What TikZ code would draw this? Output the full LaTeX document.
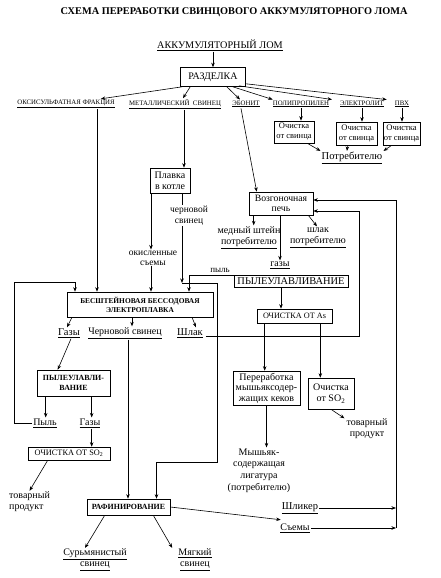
\documentclass[tikz,border=0pt]{standalone}
\usepackage{fontspec}
\setmainfont{Liberation Serif}
\usetikzlibrary{arrows.meta,calc}
\newcommand\fsz[2]{\fontsize{#1}{#2}\selectfont}
\begin{document}
\begin{tikzpicture}[x=1pt,y=-1pt,
  every node/.style={inner sep=1pt, align=center},
  lbl/.style={font=\fsz{10}{11}},
  capl/.style={font=\fsz{6.8}{8}},
  box/.style={draw, line width=0.6pt, inner sep=1pt},
  ln/.style={line width=0.6pt},
  arr/.style={line width=0.6pt, -{Stealth[length=4.5pt,width=3.5pt]}}
]
\useasboundingbox (0,0) rectangle (440,578);
\fill[white] (0,0) rectangle (440,578);

% ---------- nodes ----------
\node[font=\bfseries\fsz{10.3}{12}] (title) at (234,12) {СХЕМА ПЕРЕРАБОТКИ СВИНЦОВОГО АККУМУЛЯТОРНОГО ЛОМА};
\node[font=\fsz{10.2}{12}] (lom) at (220,45) {\underline{АККУМУЛЯТОРНЫЙ ЛОМ}};
\node[box,font=\fsz{10}{12},minimum width=65pt,minimum height=19pt] (razd) at (213,77) {РАЗДЕЛКА};

\node[capl] (oks) at (66,104) {\underline{ОКСИСУЛЬФАТНАЯ ФРАКЦИЯ}};
\node[capl] (met) at (175,104) {\underline{МЕТАЛЛИЧЕСКИЙ\ \ СВИНЕЦ}};
\node[capl] (ebon) at (246,104) {\underline{ЭБОНИТ}};
\node[capl] (poli) at (301,104) {\underline{ПОЛИПРОПИЛЕН}};
\node[capl] (elek) at (362,104) {\underline{ЭЛЕКТРОЛИТ}};
\node[capl] (pvh) at (402,104) {\underline{ПВХ}};

\node[box,font=\fsz{8.5}{10},minimum width=40pt,minimum height=22pt] (b1) at (294,132) {Очистка\\от свинца};
\node[box,font=\fsz{8.5}{10},minimum width=41pt,minimum height=23pt] (b2) at (356.5,133.5) {Очистка\\от свинца};
\node[box,font=\fsz{8.5}{10},minimum width=37pt,minimum height=23pt,inner sep=0pt] (b3) at (401.5,133.5) {Очистка\\от свинца};
\node[font=\fsz{10.5}{12}] (potr) at (352,158) {\underline{Потребителю}};

\node[box,font=\fsz{10}{11},minimum width=40pt,minimum height=25pt] (plavka) at (170,180.5) {Плавка\\в котле};
\node[lbl,font=\fsz{9.5}{10}] (okis) at (153,258) {окисленные\\съемы};
\node[lbl,font=\fsz{9.5}{10.5}] (cherv) at (189,215.5) {черновой\\свинец};

\node[box,font=\fsz{9.7}{10.5},minimum width=64pt,minimum height=23pt] (vozg) at (281,203.5) {Возгоночная\\печь};
\node[lbl] (med) at (249,237.5) {медный штейн\\\underline{потребителю}};
\node[lbl] (shlak1) at (318,237.5) {шлак\\\underline{потребителю}};
\node[lbl] (gazy1) at (280,265) {\underline{газы}};
\node[box,font=\fsz{10.4}{12},minimum width=114pt,minimum height=12pt,inner sep=0.5pt] (pyleu) at (291,281) {ПЫЛЕУЛАВЛИВАНИЕ};
\node[lbl,font=\fsz{9}{10}] (pyl1) at (220,270) {пыль};
\node[box,font=\fsz{8.2}{9},minimum width=75pt,minimum height=14pt,inner sep=0.5pt] (ochAs) at (294.5,316) {ОЧИСТКА ОТ As};

\node[box,font=\bfseries\fsz{7.4}{9},minimum width=146pt,minimum height=25pt] (besh) at (140,304.5) {БЕСШТЕЙНОВАЯ БЕССОДОВАЯ\\ЭЛЕКТРОПЛАВКА};
\node[lbl,font=\fsz{10.5}{12}] (gazy2) at (69,333) {\underline{Газы}};
\node[lbl] (chsv) at (125,333) {\underline{Черновой свинец}};
\node[lbl,font=\fsz{10.5}{12}] (shlak2) at (190,333) {\underline{Шлак}};

\node[box,font=\bfseries\fsz{7.9}{10},minimum width=73pt,minimum height=26pt] (pyl2box) at (73.5,383) {ПЫЛЕУЛАВЛИ-\\ВАНИЕ};
\node[lbl] (pyl3) at (45,423) {\underline{Пыль}};
\node[lbl] (gazy3) at (90,423) {\underline{Газы}};
\node[box,font=\fsz{8.3}{9},minimum width=82pt,minimum height=13pt,inner sep=0.5pt] (ochSO2) at (69,453.5) {ОЧИСТКА ОТ SO\textsubscript{2}};
\node[lbl,anchor=west,align=left] (tov1) at (8,502) {товарный\\продукт};

\node[box,font=\fsz{10}{10.5},minimum width=67pt,minimum height=34pt,inner sep=0.5pt] (pererab) at (266.5,388) {Переработка\\мышьяксодер-\\жащих кеков};
\node[box,font=\fsz{10}{11.5},minimum width=46pt,minimum height=31pt] (ochSO2b) at (331,393.5) {Очистка\\от SO\textsubscript{2}};
\node[lbl] (tov2) at (367,428.5) {товарный\\продукт};
\node[lbl,font=\fsz{10}{11.7}] (mysh) at (259,470.5) {Мышьяк-\\содержащая\\лигатура\\(потребителю)};

\node[box,font=\bfseries\fsz{7.9}{10},minimum width=83pt,minimum height=16pt] (raf) at (128.5,507) {РАФИНИРОВАНИЕ};
\node[lbl] (surm) at (95,560) {\underline{Сурьмянистый}\\\underline{свинец}};
\node[lbl] (myag) at (195,560) {\underline{Мягкий}\\\underline{свинец}};
\node[lbl,font=\fsz{10.5}{12}] (shlik) at (300,508) {\underline{Шликер}};
\node[lbl] (sem) at (295,528) {\underline{Съемы}};

% ---------- helper coordinates ----------
\coordinate (k1) at (182,283);
\coordinate (k2) at (217,462);
\coordinate (L) at (14,282);
\coordinate (R1) at (359,211);
\coordinate (R2) at (396,200);

% ---------- connectors ----------
\draw[arr] (lom.south -| razd.north) -- (razd.north);
\draw[arr] ($(razd.south west)+(2,0)$) -- ($(oks.north east)+(-15,0)$);
\draw[arr] ($(razd.south west)+(10,0)$) -- ($(met.north)+(8,0)$);
\draw[arr] ($(razd.south east)+(-19,0)$) -- ($(ebon.north)+(-6,0)$);
\draw[arr] ($(razd.south east)+(-13,0)$) -- ($(poli.north west)+(1,0)$);
\draw[arr] ($(razd.south east)+(-7,-1)$) -- ($(elek.north west)+(-7,0)$);
\draw[arr] ($(razd.south east)+(0,-3)$) -- ($(pvh.north west)+(-7,0)$);

\draw[arr] (poli.south) -- (b1.north -| poli.south);
\draw[arr] (elek.south) -- (b2.north -| elek.south);
\draw[arr] (pvh.south) -- (b3.north -| pvh.south);
\draw[arr] ($(b1.south east)+(-7,0)$) -- (potr.north west);
\draw[arr] ($(b2.south)+(-9,0)$) -- ($(potr.north)+(-5,0)$);
\draw[arr] ($(b3.south west)+(9,0)$) -- (potr.north east);

% left column
\draw[arr] ($(oks.south)+(31,0)$) coordinate (o1) -- (besh.north -| o1);
\draw[arr] ($(met.south)+(9,0)$) coordinate (m1) -- (plavka.north -| m1);
\draw[arr] ($(plavka.south)+(-19,0)$) coordinate (p1) -- (okis.north -| p1);
\draw[arr] (okis.south -| p1) -- (besh.north -| p1);
\draw[ln] ($(plavka.south)+(12,0)$) coordinate (p2) -- (cherv.north -| p2);
\draw[arr] (cherv.south -| p2) -- (k1);
\draw[arr] (k1) -- (k1 -| k2) -- (k2) -- ($(k2 -| raf.north)+(28,0)$) coordinate (r1) -- (raf.north -| r1);

% Возгоночная печь
\draw[arr] ($(ebon.south)+(-5,0)$) -- ($(vozg.north west)+(8,0)$);
\draw[arr] ($(vozg.south west)+(5,0)$) coordinate (v1) -- (med.north -| v1);
\draw[arr] (gazy1.north |- vozg.south) -- (gazy1.north);
\draw[arr] ($(vozg.south east)+(-5,0)$) -- ($(shlak1.north)+(-1,0)$);
\draw[arr] ($(pyleu.north west)+(0,1)$) -| ($(besh.north)+(49,0)$);
\draw[arr] ($(pyleu.south)+(-10,0)$) coordinate (a1) -- (ochAs.north -| a1);
\draw[arr] ($(ochAs.south west)+(8,0)$) coordinate (a2) -- (pererab.north -| a2);
\draw[arr] ($(ochAs.south east)+(-12,0)$) coordinate (a3) -- (ochSO2b.north -| a3);
\draw[arr] (pererab.south) -- (mysh.north -| pererab.south);
\draw[arr] (ochSO2b.south) -- ($(tov2.north west)+(-1,1)$);

% электроплавка outputs
\draw[arr] ($(besh.south)+(-68,0)$) -- ($(gazy2.north)+(-2,0)$);
\draw[arr] ($(besh.south)+(-8,0)$) coordinate (c1) -- (chsv.north -| c1);
\draw[arr] ($(besh.south)+(52,0)$) -- ($(shlak2.north)+(6,0)$);
\draw[arr] ($(chsv.south)+(3,0)$) coordinate (c2) -- (raf.north -| c2);
\draw[arr] ($(shlak2.east)+(2,3)$) -| (R1) -- (vozg.east |- R1);

\draw[arr] ($(gazy2.south)+(2,0)$) -- ($(pyl2box.north west)+(21,0)$);
\draw[arr] ($(pyl2box.south west)+(9,0)$) coordinate (y1) -- (pyl3.north -| y1);
\draw[arr] ($(pyl2box.south west)+(55,0)$) coordinate (y2) -- (gazy3.north -| y2);
\draw[arr] (gazy3.south -| y2) -- (ochSO2.north -| y2);
\draw[arr] ($(ochSO2.south west)+(20,0)$) -- (tov1.north);
\draw[arr] (pyl3.west) -| (L) -| ($(besh.north)+(-65,0)$);

% рафинирование
\draw[arr] (raf.east) -- ($(shlik.south west)+(0,5)$);
\draw[arr] ($(raf.south west)+(18,0)$) -- ($(surm.north)+(-10,0)$);
\draw[arr] ($(raf.south east)+(-17,0)$) -- ($(myag.north west)+(-5,0)$);
\draw[arr] (shlik.east) -- (shlik.east -| R2);
\draw[arr] (sem.east) -- (sem.east -| R2);
\draw[arr] (sem.east -| R2) -- (R2) -- (vozg.east |- R2);
\end{tikzpicture}
\end{document}
